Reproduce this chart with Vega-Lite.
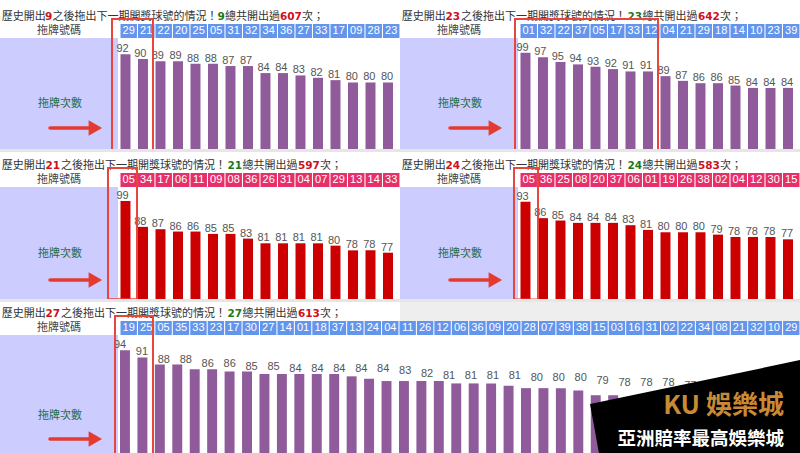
{
"$schema": "https://vega.github.io/schema/vega-lite/v6.json",
"background": "white",
"padding": {"left": 0, "top": 4, "right": 0, "bottom": 0},
"config": {"view": {"stroke": null}},
"data": {"values": [{}]},
"datasets": {
"p1": [{"n":"29","c":92},{"n":"21","c":90},{"n":"22","c":89},{"n":"20","c":89},{"n":"25","c":88},{"n":"05","c":88},{"n":"31","c":87},{"n":"32","c":87},{"n":"34","c":84},{"n":"36","c":84},{"n":"27","c":83},{"n":"33","c":82},{"n":"17","c":81},{"n":"09","c":80},{"n":"28","c":80},{"n":"23","c":80}],
"p2": [{"n":"01","c":99},{"n":"32","c":97},{"n":"22","c":95},{"n":"37","c":94},{"n":"05","c":93},{"n":"17","c":92},{"n":"33","c":91},{"n":"12","c":91},{"n":"04","c":89},{"n":"21","c":87},{"n":"29","c":86},{"n":"18","c":86},{"n":"14","c":85},{"n":"10","c":84},{"n":"23","c":84},{"n":"39","c":84}],
"p3": [{"n":"05","c":99},{"n":"34","c":88},{"n":"17","c":87},{"n":"06","c":86},{"n":"11","c":86},{"n":"09","c":85},{"n":"08","c":85},{"n":"36","c":83},{"n":"26","c":81},{"n":"31","c":81},{"n":"04","c":81},{"n":"07","c":81},{"n":"29","c":80},{"n":"13","c":78},{"n":"14","c":78},{"n":"33","c":77}],
"p4": [{"n":"05","c":93},{"n":"36","c":86},{"n":"25","c":85},{"n":"08","c":84},{"n":"20","c":84},{"n":"37","c":84},{"n":"06","c":83},{"n":"01","c":81},{"n":"19","c":80},{"n":"26","c":80},{"n":"38","c":80},{"n":"02","c":79},{"n":"04","c":78},{"n":"12","c":78},{"n":"30","c":78},{"n":"15","c":77}],
"p5": [{"n":"19","c":94},{"n":"25","c":91},{"n":"05","c":88},{"n":"35","c":88},{"n":"33","c":86},{"n":"23","c":86},{"n":"17","c":85},{"n":"30","c":85},{"n":"27","c":84},{"n":"14","c":84},{"n":"01","c":84},{"n":"18","c":84},{"n":"37","c":84},{"n":"13","c":83},{"n":"24","c":82},{"n":"04","c":81},{"n":"11","c":81},{"n":"26","c":81},{"n":"12","c":81},{"n":"06","c":80},{"n":"36","c":80},{"n":"09","c":80},{"n":"20","c":79},{"n":"28","c":78},{"n":"07","c":78},{"n":"39","c":78},{"n":"38","c":77},{"n":"15","c":75},{"n":"03","c":75},{"n":"16","c":74},{"n":"31","c":73},{"n":"02","c":72},{"n":"22","c":72},{"n":"34","c":71},{"n":"08","c":70},{"n":"21","c":70},{"n":"32","c":69},{"n":"10","c":68},{"n":"29","c":67}]
},
"columns": 4,
"spacing": 0,
"bounds": "flush",
"align": "each",
"concat": [
  {"width": 118, "height": 14, "layer": [
   {"mark": {"type":"text","text":"歷史開出","align":"left","baseline":"middle","font":"Noto Sans CJK TC","fontSize":11,"fill":"#333"},"encoding":{"x":{"datum":0.15,"type":"quantitative","scale":{"domain":[0,10.727]},"axis":null}}},
   {"mark": {"type":"text","text":"9","align":"left","baseline":"middle","font":"DejaVu Sans","fontWeight":"bold","fontSize":10.5,"fill":"#d0101b"},"encoding":{"x":{"datum":4.09,"type":"quantitative","scale":{"domain":[0,10.727]},"axis":null}}},
   {"mark": {"type":"text","text":"之後拖出下一期開獎球號的情況！","align":"left","baseline":"middle","font":"Noto Sans CJK TC","fontSize":11,"fill":"#333"},"encoding":{"x":{"datum":4.77,"type":"quantitative","scale":{"domain":[0,10.727]},"axis":null}}},
   {"mark": {"type":"text","text":"9","align":"left","baseline":"middle","font":"DejaVu Sans","fontWeight":"bold","fontSize":10.5,"fill":"#1a7a1a"},"encoding":{"x":{"datum":19.77,"type":"quantitative","scale":{"domain":[0,10.727]},"axis":null}}},
   {"mark": {"type":"text","text":"總共開出過","align":"left","baseline":"middle","font":"Noto Sans CJK TC","fontSize":11,"fill":"#333"},"encoding":{"x":{"datum":20.45,"type":"quantitative","scale":{"domain":[0,10.727]},"axis":null}}},
   {"mark": {"type":"text","text":"607","align":"left","baseline":"middle","font":"DejaVu Sans","fontWeight":"bold","fontSize":10.5,"fill":"#d0101b"},"encoding":{"x":{"datum":25.45,"type":"quantitative","scale":{"domain":[0,10.727]},"axis":null}}},
   {"mark": {"type":"text","text":"次；","align":"left","baseline":"middle","font":"Noto Sans CJK TC","fontSize":11,"fill":"#333"},"encoding":{"x":{"datum":27.45,"type":"quantitative","scale":{"domain":[0,10.727]},"axis":null}}}
  ]},
  {"width": 1, "height": 1, "mark": {"type":"text","text":""}, "encoding": {}},
  {"width": 118, "height": 14, "layer": [
   {"mark": {"type":"text","text":"歷史開出","align":"left","baseline":"middle","font":"Noto Sans CJK TC","fontSize":11,"fill":"#333"},"encoding":{"x":{"datum":0.15,"type":"quantitative","scale":{"domain":[0,10.727]},"axis":null}}},
   {"mark": {"type":"text","text":"23","align":"left","baseline":"middle","font":"DejaVu Sans","fontWeight":"bold","fontSize":10.5,"fill":"#d0101b"},"encoding":{"x":{"datum":4.14,"type":"quantitative","scale":{"domain":[0,10.727]},"axis":null}}},
   {"mark": {"type":"text","text":"之後拖出下一期開獎球號的情況！","align":"left","baseline":"middle","font":"Noto Sans CJK TC","fontSize":11,"fill":"#333"},"encoding":{"x":{"datum":5.55,"type":"quantitative","scale":{"domain":[0,10.727]},"axis":null}}},
   {"mark": {"type":"text","text":"23","align":"left","baseline":"middle","font":"DejaVu Sans","fontWeight":"bold","fontSize":10.5,"fill":"#1a7a1a"},"encoding":{"x":{"datum":20.68,"type":"quantitative","scale":{"domain":[0,10.727]},"axis":null}}},
   {"mark": {"type":"text","text":"總共開出過","align":"left","baseline":"middle","font":"Noto Sans CJK TC","fontSize":11,"fill":"#333"},"encoding":{"x":{"datum":22.05,"type":"quantitative","scale":{"domain":[0,10.727]},"axis":null}}},
   {"mark": {"type":"text","text":"642","align":"left","baseline":"middle","font":"DejaVu Sans","fontWeight":"bold","fontSize":10.5,"fill":"#d0101b"},"encoding":{"x":{"datum":27.09,"type":"quantitative","scale":{"domain":[0,10.727]},"axis":null}}},
   {"mark": {"type":"text","text":"次；","align":"left","baseline":"middle","font":"Noto Sans CJK TC","fontSize":11,"fill":"#333"},"encoding":{"x":{"datum":29.09,"type":"quantitative","scale":{"domain":[0,10.727]},"axis":null}}}
  ]},
  {"width": 1, "height": 1, "mark": {"type":"text","text":""}, "encoding": {}},

  {"width": 118, "height": 14, "mark": {"type":"text","text":"拖牌號碼","font":"Noto Sans CJK TC","fontSize":11,"fill":"#444","baseline":"middle"}, "encoding": {}},
  {"width": 282, "height": 14, "data": {"name": "p1"}, "encoding": {"x": {"field":"n","type":"nominal","sort":null,"scale":{"paddingInner":0.06,"paddingOuter":0.087,"align":0.82},"axis":null}}, "layer": [
    {"mark": {"type":"rect","fill":"#6495ed"}},
    {"mark": {"type":"text","fill":"white","font":"Liberation Sans","fontSize":11,"baseline":"middle"},"encoding":{"text":{"field":"n","type":"nominal"}}}
  ]},
  {"width": 118, "height": 14, "mark": {"type":"text","text":"拖牌號碼","font":"Noto Sans CJK TC","fontSize":11,"fill":"#444","baseline":"middle"}, "encoding": {}},
  {"width": 282, "height": 14, "data": {"name": "p2"}, "encoding": {"x": {"field":"n","type":"nominal","sort":null,"scale":{"paddingInner":0.06,"paddingOuter":0.087,"align":0.82},"axis":null}}, "layer": [
    {"mark": {"type":"rect","fill":"#6495ed"}},
    {"mark": {"type":"text","fill":"white","font":"Liberation Sans","fontSize":11,"baseline":"middle"},"encoding":{"text":{"field":"n","type":"nominal"}}}
  ]},

  {"width": 118, "height": 111, "layer": [
    {"mark":{"type":"rect","fill":"#ccccff"},"encoding":{"y":{"datum":0,"type":"quantitative","scale":{"domain":[0,1]},"axis":null},"y2":{"datum":1}}},
    {"mark":{"type":"text","text":"拖牌次數","font":"Noto Sans CJK TC","fontSize":11,"fill":"#1f6b3d","baseline":"middle"},"encoding":{"x":{"datum":0.508,"type":"quantitative","scale":{"domain":[0,1]},"axis":null},"y":{"datum":0.405,"type":"quantitative","scale":{"domain":[0,1]},"axis":null}}},
    {"mark":{"type":"rule","stroke":"#e53a2f","strokeWidth":3.5,"strokeCap":"round"},"encoding":{"x":{"datum":0.424,"type":"quantitative","scale":{"domain":[0,1]},"axis":null},"x2":{"datum":0.76},"y":{"datum":0.189,"type":"quantitative","scale":{"domain":[0,1]},"axis":null}}},
    {"mark":{"type":"point","shape":"triangle-right","size":240,"filled":true,"fill":"#e53a2f","opacity":1,"strokeWidth":0},"encoding":{"x":{"datum":0.808,"type":"quantitative","scale":{"domain":[0,1]},"axis":null},"y":{"datum":0.189,"type":"quantitative","scale":{"domain":[0,1]},"axis":null}}}
  ]},
  {"width": 282, "height": 111, "data": {"name": "p1"}, "resolve": {"scale": {"x": "independent"}}, "layer": [
    {"mark":{"type":"bar","fill":"#8f5b9b"},"encoding":{"x":{"field":"n","type":"nominal","sort":null,"scale":{"paddingInner":0.43,"paddingOuter":0.272,"align":0.2625},"axis":null},"y":{"field":"c","type":"quantitative","scale":{"domain":[51.7,98.93],"nice":false,"zero":false},"axis":null},"y2":{"datum":51.7}}},
    {"mark":{"type":"text","baseline":"alphabetic","dy":-2,"fill":"#555","font":"Liberation Sans","fontSize":11},"encoding":{"x":{"field":"n","type":"nominal","sort":null,"scale":{"paddingInner":0.43,"paddingOuter":0.272,"align":0.2625},"axis":null},"y":{"field":"c","type":"quantitative","scale":{"domain":[51.7,98.93],"nice":false,"zero":false},"axis":null},"text":{"field":"c","type":"quantitative"}}},
    {"data":{"values":[{}]},"mark":{"type":"rect","fill":"white","fillOpacity":0,"stroke":"#e8453c","strokeWidth":2},"encoding":{"x":{"datum":-0.457,"type":"quantitative","scale":{"domain":[-0.1143,16]},"axis":null},"x2":{"datum":1.886},"y":{"datum":50.85,"type":"quantitative","scale":{"domain":[51.7,98.93],"nice":false,"zero":false},"axis":null},"y2":{"datum":107.02}}}
  ]},
  {"width": 118, "height": 111, "layer": [
    {"mark":{"type":"rect","fill":"#ccccff"},"encoding":{"y":{"datum":0,"type":"quantitative","scale":{"domain":[0,1]},"axis":null},"y2":{"datum":1}}},
    {"mark":{"type":"text","text":"拖牌次數","font":"Noto Sans CJK TC","fontSize":11,"fill":"#1f6b3d","baseline":"middle"},"encoding":{"x":{"datum":0.508,"type":"quantitative","scale":{"domain":[0,1]},"axis":null},"y":{"datum":0.405,"type":"quantitative","scale":{"domain":[0,1]},"axis":null}}},
    {"mark":{"type":"rule","stroke":"#e53a2f","strokeWidth":3.5,"strokeCap":"round"},"encoding":{"x":{"datum":0.424,"type":"quantitative","scale":{"domain":[0,1]},"axis":null},"x2":{"datum":0.76},"y":{"datum":0.189,"type":"quantitative","scale":{"domain":[0,1]},"axis":null}}},
    {"mark":{"type":"point","shape":"triangle-right","size":240,"filled":true,"fill":"#e53a2f","opacity":1,"strokeWidth":0},"encoding":{"x":{"datum":0.808,"type":"quantitative","scale":{"domain":[0,1]},"axis":null},"y":{"datum":0.189,"type":"quantitative","scale":{"domain":[0,1]},"axis":null}}}
  ]},
  {"width": 282, "height": 111, "data": {"name": "p2"}, "resolve": {"scale": {"x": "independent"}}, "layer": [
    {"mark":{"type":"bar","fill":"#8f5b9b"},"encoding":{"x":{"field":"n","type":"nominal","sort":null,"scale":{"paddingInner":0.43,"paddingOuter":0.272,"align":0.2625},"axis":null},"y":{"field":"c","type":"quantitative","scale":{"domain":[58.0,105.23],"nice":false,"zero":false},"axis":null},"y2":{"datum":58.0}}},
    {"mark":{"type":"text","baseline":"alphabetic","dy":-2,"fill":"#555","font":"Liberation Sans","fontSize":11},"encoding":{"x":{"field":"n","type":"nominal","sort":null,"scale":{"paddingInner":0.43,"paddingOuter":0.272,"align":0.2625},"axis":null},"y":{"field":"c","type":"quantitative","scale":{"domain":[58.0,105.23],"nice":false,"zero":false},"axis":null},"text":{"field":"c","type":"quantitative"}}},
    {"data":{"values":[{}]},"mark":{"type":"rect","fill":"white","fillOpacity":0,"stroke":"#e8453c","strokeWidth":2},"encoding":{"x":{"datum":-0.286,"type":"quantitative","scale":{"domain":[-0.1143,16]},"axis":null},"x2":{"datum":7.886},"y":{"datum":57.57,"type":"quantitative","scale":{"domain":[58.0,105.23],"nice":false,"zero":false},"axis":null},"y2":{"datum":113.32}}}
  ]},

  {"width": 118, "height": 3, "view": {"fill": "#e6e6e6"}, "mark": {"type": "text", "text": ""}, "encoding": {}},
  {"width": 282, "height": 3, "view": {"fill": "#e6e6e6"}, "mark": {"type": "text", "text": ""}, "encoding": {}},
  {"width": 118, "height": 3, "view": {"fill": "#e6e6e6"}, "mark": {"type": "text", "text": ""}, "encoding": {}},
  {"width": 282, "height": 3, "view": {"fill": "#e6e6e6"}, "mark": {"type": "text", "text": ""}, "encoding": {}},

  {"width": 118, "height": 7, "mark": {"type": "text", "text": ""}, "encoding": {}},
  {"width": 1, "height": 1, "mark": {"type":"text","text":""}, "encoding": {}},
  {"width": 1, "height": 1, "mark": {"type":"text","text":""}, "encoding": {}},
  {"width": 1, "height": 1, "mark": {"type":"text","text":""}, "encoding": {}},

  {"width": 118, "height": 14, "layer": [
   {"mark": {"type":"text","text":"歷史開出","align":"left","baseline":"middle","font":"Noto Sans CJK TC","fontSize":11,"fill":"#333"},"encoding":{"x":{"datum":0.15,"type":"quantitative","scale":{"domain":[0,10.727]},"axis":null}}},
   {"mark": {"type":"text","text":"21","align":"left","baseline":"middle","font":"DejaVu Sans","fontWeight":"bold","fontSize":10.5,"fill":"#d0101b"},"encoding":{"x":{"datum":4.14,"type":"quantitative","scale":{"domain":[0,10.727]},"axis":null}}},
   {"mark": {"type":"text","text":"之後拖出下一期開獎球號的情況！","align":"left","baseline":"middle","font":"Noto Sans CJK TC","fontSize":11,"fill":"#333"},"encoding":{"x":{"datum":5.55,"type":"quantitative","scale":{"domain":[0,10.727]},"axis":null}}},
   {"mark": {"type":"text","text":"21","align":"left","baseline":"middle","font":"DejaVu Sans","fontWeight":"bold","fontSize":10.5,"fill":"#1a7a1a"},"encoding":{"x":{"datum":20.68,"type":"quantitative","scale":{"domain":[0,10.727]},"axis":null}}},
   {"mark": {"type":"text","text":"總共開出過","align":"left","baseline":"middle","font":"Noto Sans CJK TC","fontSize":11,"fill":"#333"},"encoding":{"x":{"datum":22.05,"type":"quantitative","scale":{"domain":[0,10.727]},"axis":null}}},
   {"mark": {"type":"text","text":"597","align":"left","baseline":"middle","font":"DejaVu Sans","fontWeight":"bold","fontSize":10.5,"fill":"#d0101b"},"encoding":{"x":{"datum":27.09,"type":"quantitative","scale":{"domain":[0,10.727]},"axis":null}}},
   {"mark": {"type":"text","text":"次；","align":"left","baseline":"middle","font":"Noto Sans CJK TC","fontSize":11,"fill":"#333"},"encoding":{"x":{"datum":29.09,"type":"quantitative","scale":{"domain":[0,10.727]},"axis":null}}}
  ]},
  {"width": 1, "height": 1, "mark": {"type":"text","text":""}, "encoding": {}},
  {"width": 118, "height": 14, "layer": [
   {"mark": {"type":"text","text":"歷史開出","align":"left","baseline":"middle","font":"Noto Sans CJK TC","fontSize":11,"fill":"#333"},"encoding":{"x":{"datum":0.15,"type":"quantitative","scale":{"domain":[0,10.727]},"axis":null}}},
   {"mark": {"type":"text","text":"24","align":"left","baseline":"middle","font":"DejaVu Sans","fontWeight":"bold","fontSize":10.5,"fill":"#d0101b"},"encoding":{"x":{"datum":4.14,"type":"quantitative","scale":{"domain":[0,10.727]},"axis":null}}},
   {"mark": {"type":"text","text":"之後拖出下一期開獎球號的情況！","align":"left","baseline":"middle","font":"Noto Sans CJK TC","fontSize":11,"fill":"#333"},"encoding":{"x":{"datum":5.55,"type":"quantitative","scale":{"domain":[0,10.727]},"axis":null}}},
   {"mark": {"type":"text","text":"24","align":"left","baseline":"middle","font":"DejaVu Sans","fontWeight":"bold","fontSize":10.5,"fill":"#1a7a1a"},"encoding":{"x":{"datum":20.68,"type":"quantitative","scale":{"domain":[0,10.727]},"axis":null}}},
   {"mark": {"type":"text","text":"總共開出過","align":"left","baseline":"middle","font":"Noto Sans CJK TC","fontSize":11,"fill":"#333"},"encoding":{"x":{"datum":22.05,"type":"quantitative","scale":{"domain":[0,10.727]},"axis":null}}},
   {"mark": {"type":"text","text":"583","align":"left","baseline":"middle","font":"DejaVu Sans","fontWeight":"bold","fontSize":10.5,"fill":"#d0101b"},"encoding":{"x":{"datum":27.09,"type":"quantitative","scale":{"domain":[0,10.727]},"axis":null}}},
   {"mark": {"type":"text","text":"次；","align":"left","baseline":"middle","font":"Noto Sans CJK TC","fontSize":11,"fill":"#333"},"encoding":{"x":{"datum":29.09,"type":"quantitative","scale":{"domain":[0,10.727]},"axis":null}}}
  ]},
  {"width": 1, "height": 1, "mark": {"type":"text","text":""}, "encoding": {}},

  {"width": 118, "height": 14, "mark": {"type":"text","text":"拖牌號碼","font":"Noto Sans CJK TC","fontSize":11,"fill":"#444","baseline":"middle"}, "encoding": {}},
  {"width": 282, "height": 14, "data": {"name": "p3"}, "encoding": {"x": {"field":"n","type":"nominal","sort":null,"scale":{"paddingInner":0.06,"paddingOuter":0.087,"align":0.82},"axis":null}}, "layer": [
    {"mark": {"type":"rect","fill":"#e6306a"}},
    {"mark": {"type":"text","fill":"white","font":"Liberation Sans","fontSize":11,"baseline":"middle"},"encoding":{"text":{"field":"n","type":"nominal"}}}
  ]},
  {"width": 118, "height": 14, "mark": {"type":"text","text":"拖牌號碼","font":"Noto Sans CJK TC","fontSize":11,"fill":"#444","baseline":"middle"}, "encoding": {}},
  {"width": 282, "height": 14, "data": {"name": "p4"}, "encoding": {"x": {"field":"n","type":"nominal","sort":null,"scale":{"paddingInner":0.06,"paddingOuter":0.087,"align":0.82},"axis":null}}, "layer": [
    {"mark": {"type":"rect","fill":"#e6306a"}},
    {"mark": {"type":"text","fill":"white","font":"Liberation Sans","fontSize":11,"baseline":"middle"},"encoding":{"text":{"field":"n","type":"nominal"}}}
  ]},

  {"width": 118, "height": 112, "layer": [
    {"mark":{"type":"rect","fill":"#ccccff"},"encoding":{"y":{"datum":0,"type":"quantitative","scale":{"domain":[0,1]},"axis":null},"y2":{"datum":1}}},
    {"mark":{"type":"text","text":"拖牌次數","font":"Noto Sans CJK TC","fontSize":11,"fill":"#1f6b3d","baseline":"middle"},"encoding":{"x":{"datum":0.508,"type":"quantitative","scale":{"domain":[0,1]},"axis":null},"y":{"datum":0.402,"type":"quantitative","scale":{"domain":[0,1]},"axis":null}}},
    {"mark":{"type":"rule","stroke":"#e53a2f","strokeWidth":3.5,"strokeCap":"round"},"encoding":{"x":{"datum":0.424,"type":"quantitative","scale":{"domain":[0,1]},"axis":null},"x2":{"datum":0.76},"y":{"datum":0.17,"type":"quantitative","scale":{"domain":[0,1]},"axis":null}}},
    {"mark":{"type":"point","shape":"triangle-right","size":240,"filled":true,"fill":"#e53a2f","opacity":1,"strokeWidth":0},"encoding":{"x":{"datum":0.808,"type":"quantitative","scale":{"domain":[0,1]},"axis":null},"y":{"datum":0.17,"type":"quantitative","scale":{"domain":[0,1]},"axis":null}}}
  ]},
  {"width": 282, "height": 112, "data": {"name": "p3"}, "resolve": {"scale": {"x": "independent"}}, "layer": [
    {"mark":{"type":"bar","fill":"#cc0000"},"encoding":{"x":{"field":"n","type":"nominal","sort":null,"scale":{"paddingInner":0.43,"paddingOuter":0.272,"align":0.2625},"axis":null},"y":{"field":"c","type":"quantitative","scale":{"domain":[57.3,104.96],"nice":false,"zero":false},"axis":null},"y2":{"datum":57.3}}},
    {"mark":{"type":"text","baseline":"alphabetic","dy":-2,"fill":"#555","font":"Liberation Sans","fontSize":11},"encoding":{"x":{"field":"n","type":"nominal","sort":null,"scale":{"paddingInner":0.43,"paddingOuter":0.272,"align":0.2625},"axis":null},"y":{"field":"c","type":"quantitative","scale":{"domain":[57.3,104.96],"nice":false,"zero":false},"axis":null},"text":{"field":"c","type":"quantitative"}}},
    {"data":{"values":[{}]},"mark":{"type":"rect","fill":"white","fillOpacity":0,"stroke":"#e8453c","strokeWidth":2},"encoding":{"x":{"datum":-0.686,"type":"quantitative","scale":{"domain":[-0.1143,16]},"axis":null},"x2":{"datum":0.971},"y":{"datum":57.2,"type":"quantitative","scale":{"domain":[57.3,104.96],"nice":false,"zero":false},"axis":null},"y2":{"datum":113.04}}}
  ]},
  {"width": 118, "height": 112, "layer": [
    {"mark":{"type":"rect","fill":"#ccccff"},"encoding":{"y":{"datum":0,"type":"quantitative","scale":{"domain":[0,1]},"axis":null},"y2":{"datum":1}}},
    {"mark":{"type":"text","text":"拖牌次數","font":"Noto Sans CJK TC","fontSize":11,"fill":"#1f6b3d","baseline":"middle"},"encoding":{"x":{"datum":0.508,"type":"quantitative","scale":{"domain":[0,1]},"axis":null},"y":{"datum":0.402,"type":"quantitative","scale":{"domain":[0,1]},"axis":null}}},
    {"mark":{"type":"rule","stroke":"#e53a2f","strokeWidth":3.5,"strokeCap":"round"},"encoding":{"x":{"datum":0.424,"type":"quantitative","scale":{"domain":[0,1]},"axis":null},"x2":{"datum":0.76},"y":{"datum":0.17,"type":"quantitative","scale":{"domain":[0,1]},"axis":null}}},
    {"mark":{"type":"point","shape":"triangle-right","size":240,"filled":true,"fill":"#e53a2f","opacity":1,"strokeWidth":0},"encoding":{"x":{"datum":0.808,"type":"quantitative","scale":{"domain":[0,1]},"axis":null},"y":{"datum":0.17,"type":"quantitative","scale":{"domain":[0,1]},"axis":null}}}
  ]},
  {"width": 282, "height": 112, "data": {"name": "p4"}, "resolve": {"scale": {"x": "independent"}}, "layer": [
    {"mark":{"type":"bar","fill":"#cc0000"},"encoding":{"x":{"field":"n","type":"nominal","sort":null,"scale":{"paddingInner":0.43,"paddingOuter":0.272,"align":0.2625},"axis":null},"y":{"field":"c","type":"quantitative","scale":{"domain":[51.6,99.26],"nice":false,"zero":false},"axis":null},"y2":{"datum":51.6}}},
    {"mark":{"type":"text","baseline":"alphabetic","dy":-2,"fill":"#555","font":"Liberation Sans","fontSize":11},"encoding":{"x":{"field":"n","type":"nominal","sort":null,"scale":{"paddingInner":0.43,"paddingOuter":0.272,"align":0.2625},"axis":null},"y":{"field":"c","type":"quantitative","scale":{"domain":[51.6,99.26],"nice":false,"zero":false},"axis":null},"text":{"field":"c","type":"quantitative"}}},
    {"data":{"values":[{}]},"mark":{"type":"rect","fill":"white","fillOpacity":0,"stroke":"#e8453c","strokeWidth":2},"encoding":{"x":{"datum":-0.343,"type":"quantitative","scale":{"domain":[-0.1143,16]},"axis":null},"x2":{"datum":1.029},"y":{"datum":51.4,"type":"quantitative","scale":{"domain":[51.6,99.26],"nice":false,"zero":false},"axis":null},"y2":{"datum":107.34}}}
  ]},

  {"width": 118, "height": 3, "view": {"fill": "#e6e6e6"}, "mark": {"type": "text", "text": ""}, "encoding": {}},
  {"width": 282, "height": 3, "view": {"fill": "#e6e6e6"}, "mark": {"type": "text", "text": ""}, "encoding": {}},
  {"width": 118, "height": 3, "view": {"fill": "#e6e6e6"}, "mark": {"type": "text", "text": ""}, "encoding": {}},
  {"width": 282, "height": 3, "view": {"fill": "#e6e6e6"}, "mark": {"type": "text", "text": ""}, "encoding": {}},

  {"width": 118, "height": 5, "mark": {"type": "text", "text": ""}, "encoding": {}},
  {"width": 1, "height": 1, "mark": {"type":"text","text":""}, "encoding": {}},
  {"width": 118, "height": 5, "view": {"fill": "#eeeeee"}, "mark": {"type":"text","text":""}, "encoding": {}},
  {"width": 282, "height": 5, "view": {"fill": "#eeeeee"}, "mark": {"type":"text","text":""}, "encoding": {}},

  {"width": 118, "height": 14, "layer": [
   {"mark": {"type":"text","text":"歷史開出","align":"left","baseline":"middle","font":"Noto Sans CJK TC","fontSize":11,"fill":"#333"},"encoding":{"x":{"datum":0.15,"type":"quantitative","scale":{"domain":[0,10.727]},"axis":null}}},
   {"mark": {"type":"text","text":"27","align":"left","baseline":"middle","font":"DejaVu Sans","fontWeight":"bold","fontSize":10.5,"fill":"#d0101b"},"encoding":{"x":{"datum":4.14,"type":"quantitative","scale":{"domain":[0,10.727]},"axis":null}}},
   {"mark": {"type":"text","text":"之後拖出下一期開獎球號的情況！","align":"left","baseline":"middle","font":"Noto Sans CJK TC","fontSize":11,"fill":"#333"},"encoding":{"x":{"datum":5.55,"type":"quantitative","scale":{"domain":[0,10.727]},"axis":null}}},
   {"mark": {"type":"text","text":"27","align":"left","baseline":"middle","font":"DejaVu Sans","fontWeight":"bold","fontSize":10.5,"fill":"#1a7a1a"},"encoding":{"x":{"datum":20.68,"type":"quantitative","scale":{"domain":[0,10.727]},"axis":null}}},
   {"mark": {"type":"text","text":"總共開出過","align":"left","baseline":"middle","font":"Noto Sans CJK TC","fontSize":11,"fill":"#333"},"encoding":{"x":{"datum":22.05,"type":"quantitative","scale":{"domain":[0,10.727]},"axis":null}}},
   {"mark": {"type":"text","text":"613","align":"left","baseline":"middle","font":"DejaVu Sans","fontWeight":"bold","fontSize":10.5,"fill":"#d0101b"},"encoding":{"x":{"datum":27.09,"type":"quantitative","scale":{"domain":[0,10.727]},"axis":null}}},
   {"mark": {"type":"text","text":"次；","align":"left","baseline":"middle","font":"Noto Sans CJK TC","fontSize":11,"fill":"#333"},"encoding":{"x":{"datum":29.09,"type":"quantitative","scale":{"domain":[0,10.727]},"axis":null}}}
  ]},
  {"width": 1, "height": 1, "mark": {"type":"text","text":""}, "encoding": {}},
  {"width": 118, "height": 14, "view": {"fill": "#eeeeee"}, "mark": {"type":"text","text":""}, "encoding": {}},
  {"width": 282, "height": 14, "view": {"fill": "#eeeeee"}, "mark": {"type":"text","text":""}, "encoding": {}},

  {"width": 118, "height": 14, "mark": {"type":"text","text":"拖牌號碼","font":"Noto Sans CJK TC","fontSize":11,"fill":"#444","baseline":"middle"}, "encoding": {}},
  {"width": 282, "height": 14, "data": {"name": "p5"}, "encoding": {"x": {"field":"n","type":"nominal","sort":null,"scale":{"range":[2,682],"paddingInner":0.06,"paddingOuter":0.03},"axis":null}}, "layer": [
    {"mark": {"type":"rect","fill":"#6495ed"}},
    {"mark": {"type":"text","fill":"white","font":"Liberation Sans","fontSize":11,"baseline":"middle"},"encoding":{"text":{"field":"n","type":"nominal"}}}
  ]},
  {"width": 1, "height": 1, "mark": {"type":"text","text":""}, "encoding": {}},
  {"width": 1, "height": 1, "mark": {"type":"text","text":""}, "encoding": {}},

  {"width": 118, "height": 124, "layer": [
    {"mark":{"type":"rect","fill":"#ccccff"},"encoding":{"y":{"datum":0,"type":"quantitative","scale":{"domain":[0,1]},"axis":null},"y2":{"datum":1}}},
    {"mark":{"type":"text","text":"拖牌次數","font":"Noto Sans CJK TC","fontSize":11,"fill":"#1f6b3d","baseline":"middle"},"encoding":{"x":{"datum":0.508,"type":"quantitative","scale":{"domain":[0,1]},"axis":null},"y":{"datum":0.347,"type":"quantitative","scale":{"domain":[0,1]},"axis":null}}},
    {"mark":{"type":"rule","stroke":"#e53a2f","strokeWidth":3.5,"strokeCap":"round"},"encoding":{"x":{"datum":0.424,"type":"quantitative","scale":{"domain":[0,1]},"axis":null},"x2":{"datum":0.76},"y":{"datum":0.161,"type":"quantitative","scale":{"domain":[0,1]},"axis":null}}},
    {"mark":{"type":"point","shape":"triangle-right","size":240,"filled":true,"fill":"#e53a2f","opacity":1,"strokeWidth":0},"encoding":{"x":{"datum":0.808,"type":"quantitative","scale":{"domain":[0,1]},"axis":null},"y":{"datum":0.161,"type":"quantitative","scale":{"domain":[0,1]},"axis":null}}}
  ]},
  {"width": 282, "height": 124, "data": {"name": "p5"}, "resolve": {"scale": {"x": "independent"}}, "layer": [
    {"mark":{"type":"bar","fill":"#8f5b9b"},"encoding":{"x":{"field":"n","type":"nominal","sort":null,"scale":{"range":[2,682],"paddingInner":0.43,"paddingOuter":0.215,"align":0},"axis":null},"y":{"field":"c","type":"quantitative","scale":{"domain":[48.0,100.5],"nice":false,"zero":false},"axis":null},"y2":{"datum":48.0}}},
    {"transform":[{"filter":"datum.c >= 73"}],"mark":{"type":"text","baseline":"alphabetic","dy":-2,"fill":"#555","font":"Liberation Sans","fontSize":11},"encoding":{"x":{"field":"n","type":"nominal","sort":null,"scale":{"range":[2,682],"paddingInner":0.43,"paddingOuter":0.215,"align":0},"axis":null},"y":{"field":"c","type":"quantitative","scale":{"domain":[48.0,100.5],"nice":false,"zero":false},"axis":null},"text":{"field":"c","type":"quantitative"}}},
    {"data":{"values":[{}]},"mark":{"type":"rect","fill":"white","fillOpacity":0,"stroke":"#e8453c","strokeWidth":2},"encoding":{"x":{"datum":-0.287,"type":"quantitative","scale":{"domain":[0,39],"range":[2,682]},"axis":null},"x2":{"datum":1.893},"y":{"datum":48.81,"type":"quantitative","scale":{"domain":[48.0,100.5],"nice":false,"zero":false},"axis":null},"y2":{"datum":108.55}}},
    {"data":{"values":[{}]},"mark":{"type":"point","shape":"M-1,-0.052L1,-0.471L1,0.47L-0.905,0.47Z","size":44100,"filled":true,"fill":"#000000","opacity":1,"strokeWidth":0},"encoding":{"x":{"datum":32.98,"type":"quantitative","scale":{"domain":[0,39],"range":[2,682]},"axis":null},"y":{"datum":68.93,"type":"quantitative","scale":{"domain":[48.0,100.5],"nice":false,"zero":false},"axis":null}}},
    {"data":{"values":[{}]},"mark":{"type":"text","text":"KU 娛樂城","align":"right","baseline":"middle","font":"Noto Sans CJK TC","fontWeight":"bold","fontSize":26,"fill":"#c88a34"},"encoding":{"x":{"datum":38.08,"type":"quantitative","scale":{"domain":[0,39],"range":[2,682]},"axis":null},"y":{"datum":70.42,"type":"quantitative","scale":{"domain":[48.0,100.5],"nice":false,"zero":false},"axis":null}}},
    {"data":{"values":[{}]},"mark":{"type":"text","text":"亞洲賠率最高娛樂城","align":"right","baseline":"middle","font":"Noto Sans CJK TC","fontWeight":"bold","fontSize":18.5,"fill":"white"},"encoding":{"x":{"datum":38.08,"type":"quantitative","scale":{"domain":[0,39],"range":[2,682]},"axis":null},"y":{"datum":56.43,"type":"quantitative","scale":{"domain":[48.0,100.5],"nice":false,"zero":false},"axis":null}}}
  ]},
  {"width": 1, "height": 1, "mark": {"type":"text","text":""}, "encoding": {}},
  {"width": 1, "height": 1, "mark": {"type":"text","text":""}, "encoding": {}}
]
}
